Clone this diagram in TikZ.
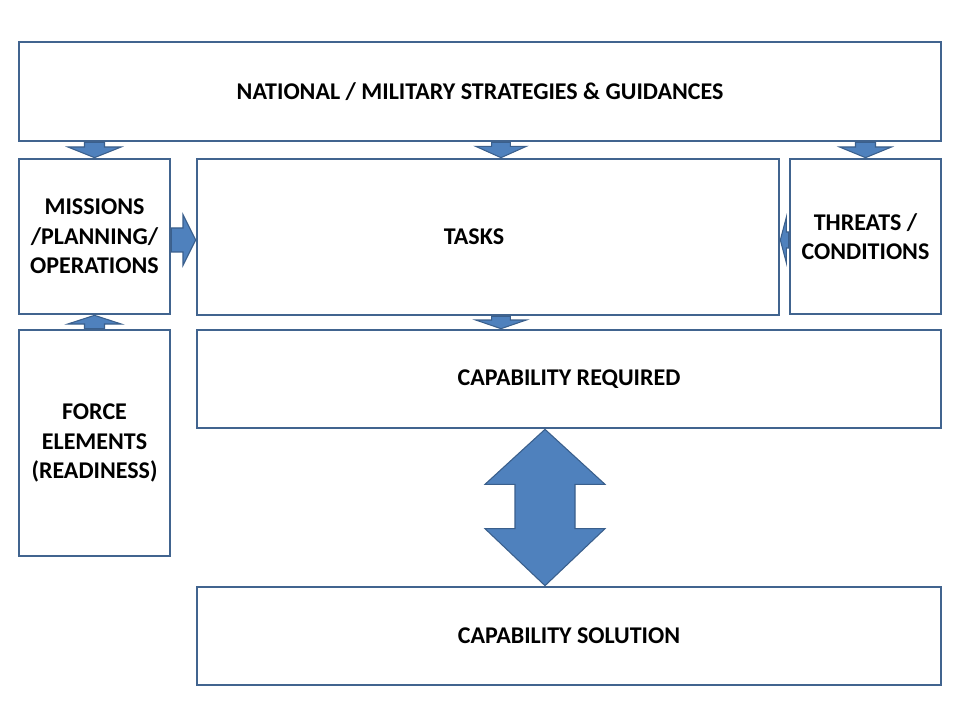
\documentclass[tikz,border=0pt]{standalone}
\usepackage{fontspec}
\setmainfont{Carlito}
\usetikzlibrary{calc, fit}
\definecolor{boxline}{HTML}{41648F}
\definecolor{arrowfill}{HTML}{4F81BD}
\definecolor{arrowline}{HTML}{3A5F8C}
\tikzset{
  box/.style={
    draw=boxline,
    line width=2pt,
    inner sep=0pt,
  },
  txt/.style={align=center, font=\bfseries\fontsize{18}{22}\selectfont},
  blk/.style={fill=arrowfill, draw=arrowline, line width=0.8pt, line join=miter},
}
% block arrow from #1 to #2: half shaft #3, half head #4, head length #5
\newcommand{\blockarrow}[5]{%
  \coordinate (hb) at ($(#2)!#5!(#1)$);
  \draw[blk] ($(#1)!#3!90:(#2)$) -- ($(hb)!#3!90:(#2)$) -- ($(hb)!#4!90:(#2)$) -- (#2)
    -- ($(hb)!#4!-90:(#2)$) -- ($(hb)!#3!-90:(#2)$) -- ($(#1)!#3!-90:(#2)$) -- cycle;
}

\begin{document}
\begin{tikzpicture}[x=0.75pt, y=-0.75pt]

\fill[white] (0,0) rectangle (960,720);
\useasboundingbox (0,0) rectangle (960,720);

% Boxes
\node[box, fit={(19,42) (941,141)}, label={[txt]center:NATIONAL / MILITARY STRATEGIES \& GUIDANCES}] (strat) {};
\node[box, fit={(19,159) (170,314)}, label={[txt]center:MISSIONS\\/PLANNING/\\OPERATIONS}] (missions) {};
\node[box, fit={(197,159) (779,315)}, label={[txt, xshift=-10.5pt]center:TASKS}] (tasks) {};
\node[box, fit={(790,159) (941,314)}, label={[txt]center:THREATS /\\CONDITIONS}] (threats) {};
\node[box, fit={(19,330) (170,556)}, label={[txt]center:FORCE\\ELEMENTS\\(READINESS)}] (force) {};
\node[box, fit={(197,330) (941,428)}, label={[txt]center:CAPABILITY REQUIRED}] (capreq) {};
\node[box, fit={(197,587) (941,685)}, label={[txt]center:CAPABILITY SOLUTION}] (capsol) {};

% --- Block arrows ---------------------------------------------------
\blockarrow{strat.south -| missions.north}{missions.north}{7.5pt}{20pt}{8pt}
\blockarrow{501,0 |- strat.south}{501,0 |- tasks.north}{7pt}{19pt}{8.5pt}
\blockarrow{strat.south -| threats.north}{threats.north}{7.5pt}{19.5pt}{8pt}
\blockarrow{missions.east |- 0,240}{tasks.west |- 0,240}{9pt}{19pt}{9.5pt}
\blockarrow{threats.west |- 0,240}{tasks.east |- 0,240}{6pt}{17pt}{4.5pt}
\blockarrow{force.north}{missions.south}{7.5pt}{20pt}{6.5pt}
\blockarrow{501,0 |- tasks.south}{501,0 |- capreq.north}{7pt}{19pt}{6.5pt}

% double arrow between required and solution
\coordinate (bt) at (545,0 |- capreq.south);
\coordinate (bb) at (545,0 |- capsol.north);
\draw[blk] (bt) -- ($(bt)+(60,55)$) -- ($(bt)+(30,55)$) -- ($(bb)+(30,-57)$)
  -- ($(bb)+(60,-57)$) -- (bb) -- ($(bb)+(-60,-57)$) -- ($(bb)+(-30,-57)$)
  -- ($(bt)+(-30,55)$) -- ($(bt)+(-60,55)$) -- cycle;

\end{tikzpicture}
\end{document}
